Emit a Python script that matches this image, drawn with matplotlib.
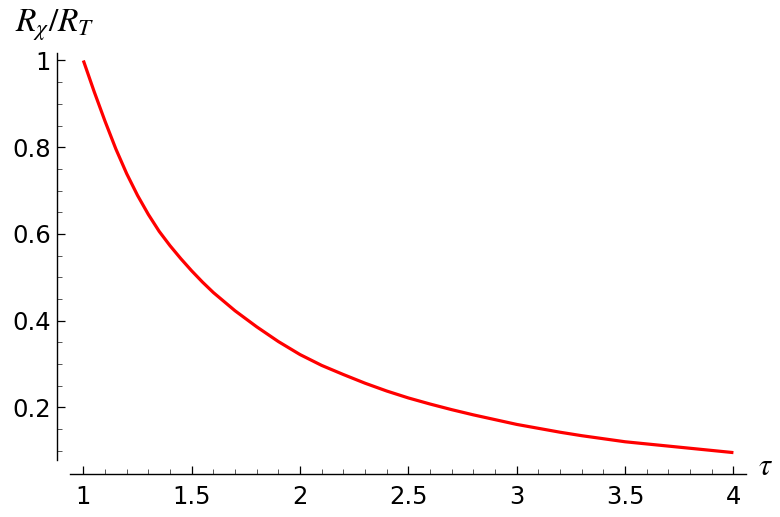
import matplotlib
matplotlib.use("Agg")
import matplotlib.pyplot as plt
from matplotlib.ticker import FixedLocator, MultipleLocator, FormatStrFormatter

# values
tau = [1.0, 1.05, 1.1, 1.15, 1.2, 1.25, 1.3, 1.35, 1.4, 1.45, 1.5, 1.55, 1.6,
       1.7, 1.8, 1.9, 2.0, 2.1, 2.2, 2.3, 2.4, 2.5, 2.6, 2.7, 2.8, 2.9, 3.0,
       3.1, 3.2, 3.3, 3.4, 3.5, 3.6, 3.7, 3.8, 3.9, 4.0]
ratio = [1.0, 0.928, 0.860, 0.796, 0.739, 0.689, 0.645, 0.606, 0.573, 0.543,
         0.515, 0.489, 0.465, 0.423, 0.386, 0.352, 0.322, 0.297, 0.276, 0.256,
         0.238, 0.222, 0.208, 0.195, 0.183, 0.172, 0.161, 0.152, 0.143, 0.135,
         0.128, 0.121, 0.116, 0.111, 0.106, 0.101, 0.096]

x_minor = [1.1, 1.2, 1.3, 1.4, 1.6, 1.7, 1.8, 1.9, 2.1, 2.2, 2.3, 2.4, 2.6,
           2.7, 2.8, 2.9, 3.1, 3.2, 3.3, 3.4, 3.6, 3.7, 3.8, 3.9]
y_minor = [0.1, 0.15, 0.25, 0.3, 0.35, 0.45, 0.5, 0.55, 0.65, 0.7, 0.75,
           0.85, 0.9, 0.95]

plt.rcParams['mathtext.fontset'] = 'stix'

fig = plt.figure(figsize=(7.8, 5.17), dpi=100)
ax = fig.add_axes([0.0727, 0.0826, 0.8837, 0.8155])

ax.plot(tau, ratio, color='#ff0000', lw=2.3, solid_capstyle='butt',
        solid_joinstyle='round')

ax.set_xlim(0.877, 4.058)
ax.set_ylim(0.046, 1.018)

for s in ['top', 'right']:
    ax.spines[s].set_visible(False)
ax.spines['left'].set_bounds(0.078, 1.018)
ax.spines['bottom'].set_bounds(0.939, 4.058)
for s in ['left', 'bottom']:
    ax.spines[s].set_linewidth(1.0)

ax.xaxis.set_major_locator(MultipleLocator(0.5))
ax.xaxis.set_minor_locator(FixedLocator(x_minor))
ax.yaxis.set_major_locator(MultipleLocator(0.2))
ax.yaxis.set_minor_locator(FixedLocator(y_minor))
ax.xaxis.set_major_formatter(FormatStrFormatter('%g'))
ax.yaxis.set_major_formatter(FormatStrFormatter('%g'))

ax.tick_params(which='major', direction='in', length=6, width=0.9, labelsize=17.5)
ax.tick_params(which='minor', direction='in', length=3.5, width=0.7, color='#555555')
ax.tick_params(axis='x', which='major', pad=8)
ax.tick_params(axis='y', which='major', pad=4)

fig.text(15 / 780, 0.952, r'$R_\chi/R_T$', fontsize=24, ha='left', va='center')
fig.text(0.972, 0.097, r'$\tau$', fontsize=22, ha='left', va='center')

fig.savefig('out.png', dpi=100)
